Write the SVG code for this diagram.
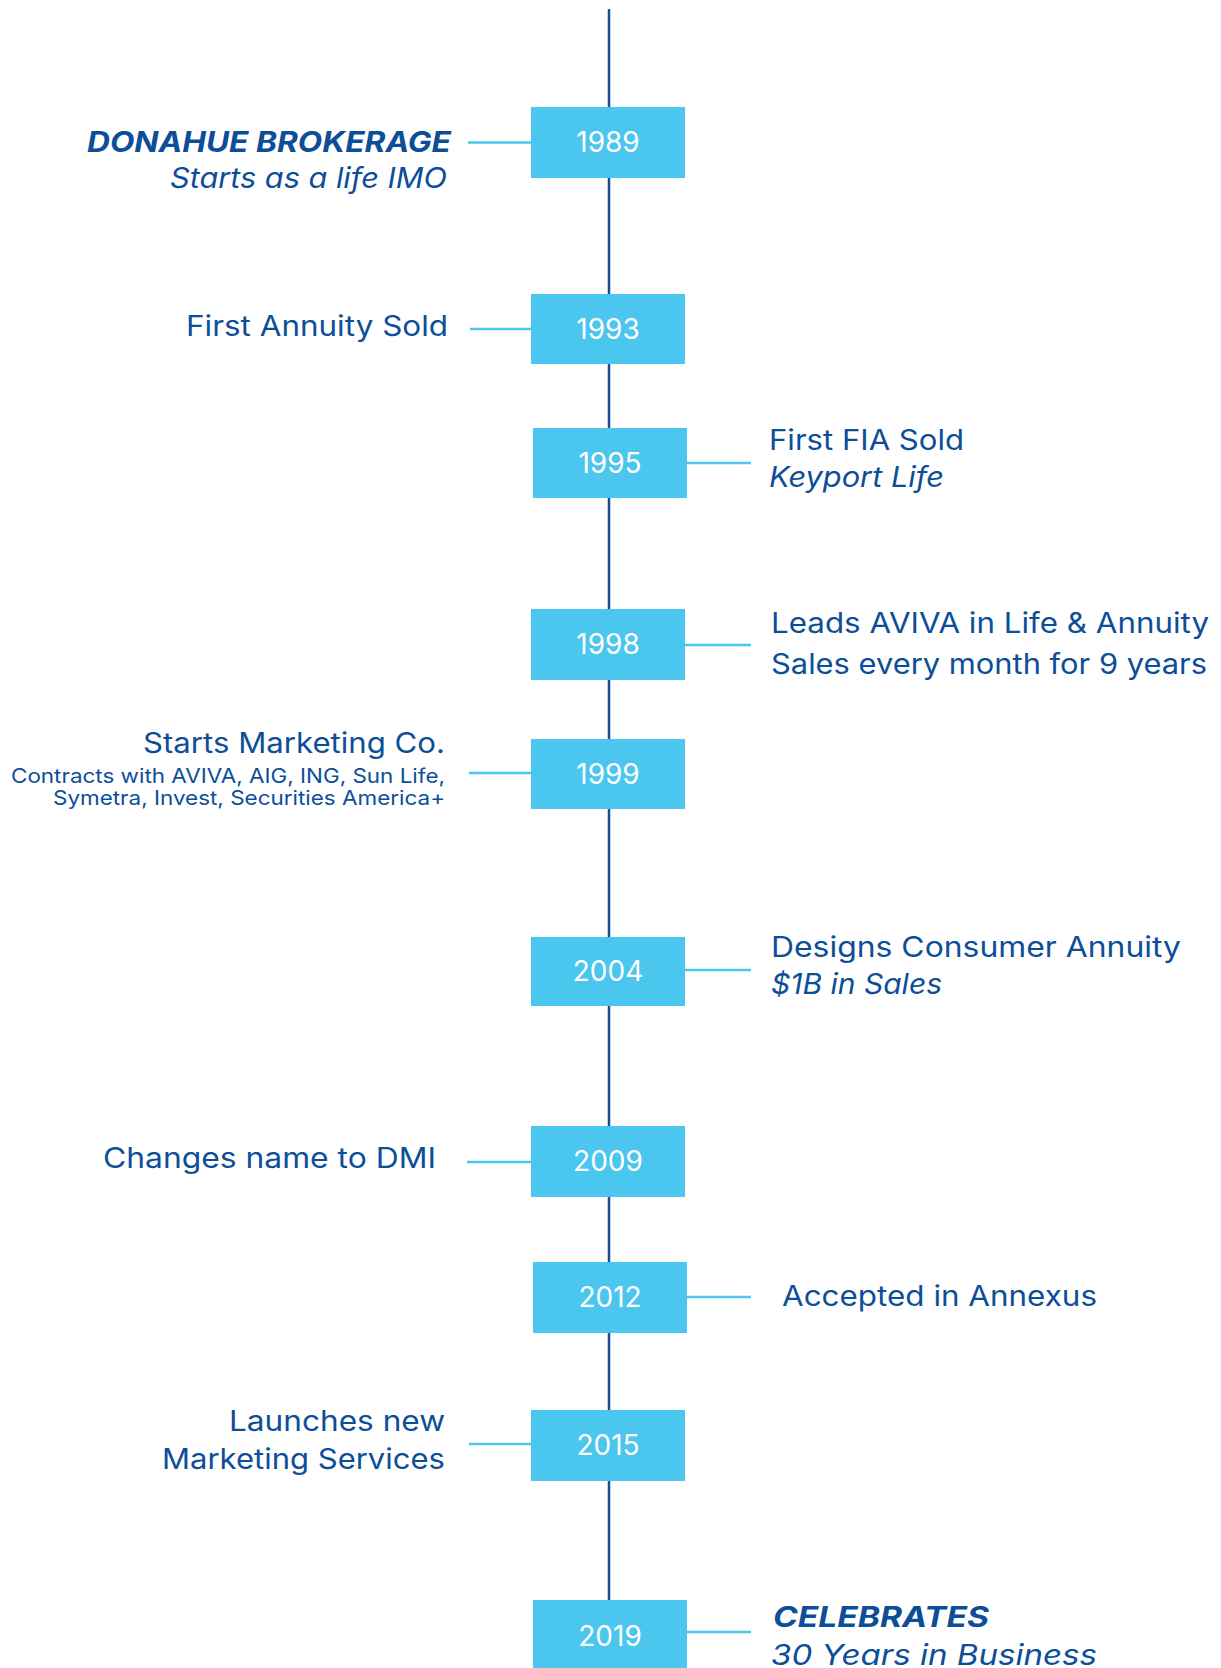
<svg xmlns="http://www.w3.org/2000/svg" width="1221" height="1668" viewBox="0 0 1221 1668">
<style>
.spine{stroke:#1B4B97;stroke-width:2.5;fill:none}
.conn{stroke:#4AC6EF;stroke-width:2.5;fill:none}
.box{fill:#4AC6EF}
.yr{fill:#ffffff;font-family:Inter,"Open Sans","Liberation Sans",sans-serif;font-size:28px;text-anchor:middle}
.t{fill:#0D4E99;font-family:Inter,"Open Sans","Liberation Sans",sans-serif;font-size:28px}
.l{text-anchor:end}
.i{font-style:italic}
.b{font-weight:700}
.s{font-size:20px}
</style>
<rect width="1221" height="1668" fill="#ffffff"/>
<g id="connectors">
<line class="spine" x1="609" y1="9" x2="609" y2="1610"/>
<line class="conn" x1="468" y1="142.5" x2="532" y2="142.5"/>
<line class="conn" x1="470" y1="329" x2="532" y2="329"/>
<line class="conn" x1="686" y1="463" x2="751" y2="463"/>
<line class="conn" x1="684" y1="645" x2="751" y2="645"/>
<line class="conn" x1="469" y1="773" x2="532" y2="773"/>
<line class="conn" x1="684" y1="970" x2="751" y2="970"/>
<line class="conn" x1="467" y1="1162" x2="532" y2="1162"/>
<line class="conn" x1="686" y1="1297" x2="751" y2="1297"/>
<line class="conn" x1="469" y1="1444" x2="532" y2="1444"/>
<line class="conn" x1="686" y1="1632" x2="751" y2="1632"/>
</g>
<g id="n1989">
<rect class="box" x="531" y="107" width="154" height="71"/>
<text class="yr" x="608" y="152">1989</text>
<text class="t l i b" x="451" y="152" textLength="364" lengthAdjust="spacingAndGlyphs">DONAHUE BROKERAGE</text>
<text class="t l i" x="447" y="188" textLength="277" lengthAdjust="spacingAndGlyphs">Starts as a life IMO</text>
</g>
<g id="n1993">
<rect class="box" x="531" y="294" width="154" height="70"/>
<text class="yr" x="608" y="339">1993</text>
<text class="t l" x="448" y="336" textLength="262" lengthAdjust="spacingAndGlyphs">First Annuity Sold</text>
</g>
<g id="n1995">
<rect class="box" x="533" y="428" width="154" height="70"/>
<text class="yr" x="610" y="473">1995</text>
<text class="t" x="769" y="450" textLength="195" lengthAdjust="spacingAndGlyphs">First FIA Sold</text>
<text class="t i" x="769" y="487" textLength="175" lengthAdjust="spacingAndGlyphs">Keyport Life</text>
</g>
<g id="n1998">
<rect class="box" x="531" y="609" width="154" height="71"/>
<text class="yr" x="608" y="654">1998</text>
<text class="t" x="771" y="633" textLength="438" lengthAdjust="spacingAndGlyphs">Leads AVIVA in Life &amp; Annuity</text>
<text class="t" x="771" y="674" textLength="436" lengthAdjust="spacingAndGlyphs">Sales every month for 9 years</text>
</g>
<g id="n1999">
<rect class="box" x="531" y="739" width="154" height="70"/>
<text class="yr" x="608" y="784">1999</text>
<text class="t l" x="445" y="753" textLength="302" lengthAdjust="spacingAndGlyphs">Starts Marketing Co.</text>
<text class="t l s" x="445" y="783" textLength="434" lengthAdjust="spacingAndGlyphs">Contracts with AVIVA, AIG, ING, Sun Life,</text>
<text class="t l s" x="445" y="805" textLength="392" lengthAdjust="spacingAndGlyphs">Symetra, Invest, Securities America+</text>
</g>
<g id="n2004">
<rect class="box" x="531" y="937" width="154" height="69"/>
<text class="yr" x="608" y="981">2004</text>
<text class="t" x="771" y="957" textLength="410" lengthAdjust="spacingAndGlyphs">Designs Consumer Annuity</text>
<text class="t i" x="771" y="994" textLength="171" lengthAdjust="spacingAndGlyphs">$1B in Sales</text>
</g>
<g id="n2009">
<rect class="box" x="531" y="1126" width="154" height="71"/>
<text class="yr" x="608" y="1171">2009</text>
<text class="t l" x="436" y="1168" textLength="333" lengthAdjust="spacingAndGlyphs">Changes name to DMI</text>
</g>
<g id="n2012">
<rect class="box" x="533" y="1262" width="154" height="71"/>
<text class="yr" x="610" y="1307">2012</text>
<text class="t" x="782" y="1306" textLength="315" lengthAdjust="spacingAndGlyphs">Accepted in Annexus</text>
</g>
<g id="n2015">
<rect class="box" x="531" y="1410" width="154" height="71"/>
<text class="yr" x="608" y="1455">2015</text>
<text class="t l" x="445" y="1431" textLength="216" lengthAdjust="spacingAndGlyphs">Launches new</text>
<text class="t l" x="445" y="1469" textLength="283" lengthAdjust="spacingAndGlyphs">Marketing Services</text>
</g>
<g id="n2019">
<rect class="box" x="533" y="1600" width="154" height="68"/>
<text class="yr" x="610" y="1646">2019</text>
<text class="t i b" x="773" y="1627" textLength="216" lengthAdjust="spacingAndGlyphs">CELEBRATES</text>
<text class="t i" x="771" y="1665" textLength="326" lengthAdjust="spacingAndGlyphs">30 Years in Business</text>
</g>
</svg>
